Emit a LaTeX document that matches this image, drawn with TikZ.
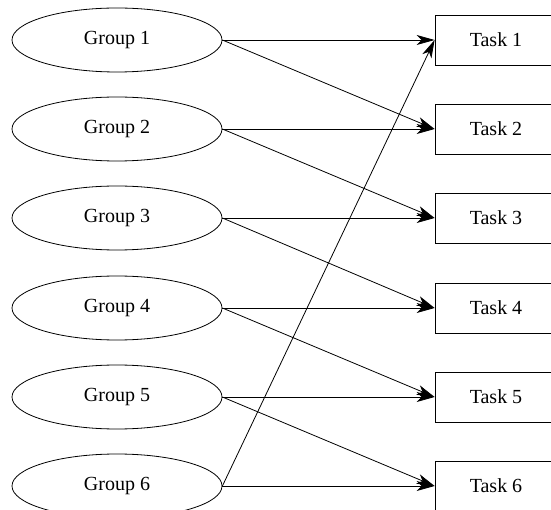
\documentclass[tikz,border=0pt]{standalone}
\usepackage{fontspec}
\setmainfont{Liberation Serif}
\usetikzlibrary{positioning,arrows.meta,shapes.geometric}

\begin{document}
\begin{tikzpicture}[x=1pt, y=1pt,
  >={Stealth[length=18pt, width=10pt, inset=5pt]},
  line width=0.8pt,
  group/.style={draw, ellipse, minimum width=210pt, minimum height=64pt,
    inner sep=0pt, font=\fontsize{20}{24}\selectfont},
  task/.style={draw, rectangle, minimum width=122pt, minimum height=50pt,
    inner sep=0pt, font=\fontsize{20}{24}\selectfont}]
\useasboundingbox (0,0) rectangle (551,-510);
\node[group] (g1) at (117,-40) {Group 1};
\node[group] (g2) at (117,-129) {Group 2};
\node[group] (g3) at (117,-218) {Group 3};
\node[group] (g4) at (117,-308) {Group 4};
\node[group] (g5) at (117,-397) {Group 5};
\node[group] (g6) at (117,-486) {Group 6};
\node[task] (t1) at (496,-40) {Task 1};
\node[task] (t2) at (496,-129) {Task 2};
\node[task] (t3) at (496,-218) {Task 3};
\node[task] (t4) at (496,-308) {Task 4};
\node[task] (t5) at (496,-397) {Task 5};
\node[task] (t6) at (496,-486) {Task 6};
\draw[->] (g1.east) -- (t1.west);
\draw[->] (g1.east) -- (t2.west);
\draw[->] (g2.east) -- (t2.west);
\draw[->] (g2.east) -- (t3.west);
\draw[->] (g3.east) -- (t3.west);
\draw[->] (g3.east) -- (t4.west);
\draw[->] (g4.east) -- (t4.west);
\draw[->] (g4.east) -- (t5.west);
\draw[->] (g5.east) -- (t5.west);
\draw[->] (g5.east) -- (t6.west);
\draw[->] (g6.east) -- (t6.west);
\draw[->] (g6.east) -- (t1.west);
\end{tikzpicture}
\end{document}
